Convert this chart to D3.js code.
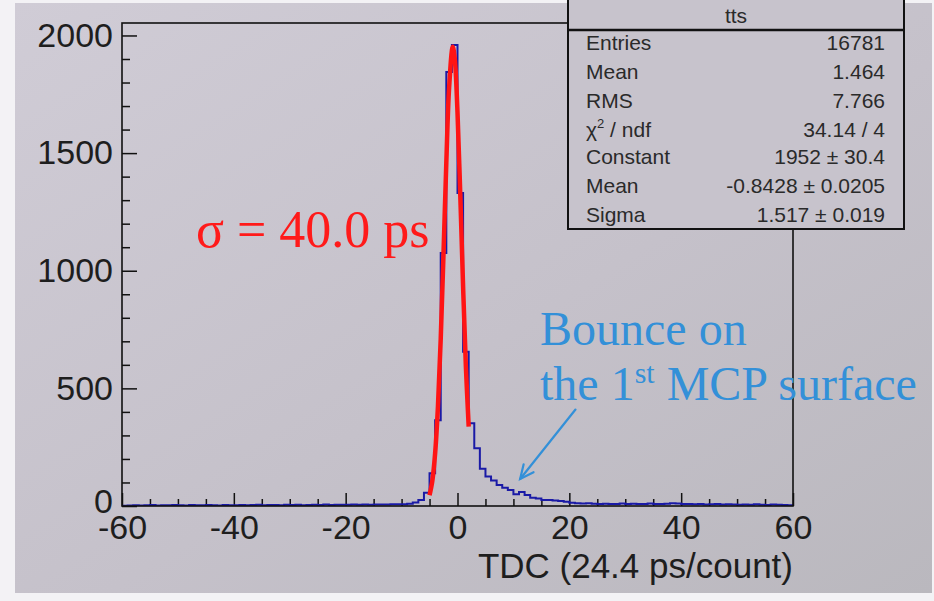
<!DOCTYPE html>
<html>
<head>
<meta charset="utf-8">
<script src="https://cdn.jsdelivr.net/npm/d3@7"></script>
<style>
  body { margin: 0; background: #f3f2f5; }
  svg { display: block; }
</style>
</head>
<body>
<svg id="chart" width="934" height="601"></svg>
<script>
// histogram "tts": 120 bins of width 1 from -60 to 60
const binLow = d3.range(-60, 60);
const counts = [
  // -60 .. -51
  1, 2, 3, 2, 3, 4, 2, 3, 3, 4,
  // -50 .. -41
  3, 2, 4, 3, 3, 4, 3, 2, 4, 3,
  // -40 .. -31
  3, 4, 3, 4, 5, 3, 4, 4, 3, 5,
  // -30 .. -21
  4, 5, 3, 4, 5, 4, 6, 4, 5, 5,
  // -20 .. -11
  5, 6, 5, 6, 5, 6, 6, 6, 7, 7,
  // -10 .. -1
  7, 10, 15, 26, 56, 139, 365, 1075, 1845, 1960,
  // 0 .. 9
  1330, 656, 352, 245, 158, 125, 108, 89, 78, 68,
  // 10 .. 19
  50, 60, 47, 35, 32, 26, 25, 23, 21, 18,
  // 20 .. 29
  14, 12, 11, 12, 10, 9, 10, 8, 9, 11,
  // 30 .. 39
  9, 10, 8, 9, 11, 9, 8, 10, 12, 11,
  // 40 .. 49
  9, 8, 7, 8, 6, 7, 8, 6, 7, 6,
  // 50 .. 59
  5, 6, 5, 7, 5, 4, 6, 5, 4, 3
];

// gaussian fit curve
const fitX = [-5, -4.5, -4, -3.5, -3, -2.5, -2, -1.5, -0.85, -0.5, 0, 0.5, 1, 1.5, 2];
const fitY = [46, 107, 224, 421, 710, 1075, 1459, 1777, 1952, 1903, 1673, 1319, 933, 592, 337];

const xTicks = [-60, -40, -20, 0, 20, 40, 60];
const xMinor = d3.range(-55, 60, 5);
const yTicks = [0, 500, 1000, 1500, 2000];
const yMinor = d3.range(100, 2100, 100);

const statLabels = ['Entries', 'Mean', 'RMS', 'chi2', 'Constant', 'Mean', 'Sigma'];
const statValues = ['16781', '1.464', '7.766', '34.14 / 4', '1952 \u00b1 30.4', '-0.8428 \u00b1 0.0205', '1.517 \u00b1 0.019'];

const svg = d3.select('#chart');

const defs = svg.append('defs');
const grad = defs.append('linearGradient')
  .attr('id', 'bg')
  .attr('x1', '0%').attr('y1', '0%')
  .attr('x2', '100%').attr('y2', '100%');
grad.append('stop').attr('offset', '0%').attr('stop-color', '#d0ccd6');
grad.append('stop').attr('offset', '55%').attr('stop-color', '#c5c1ca');
grad.append('stop').attr('offset', '100%').attr('stop-color', '#bab8be');

defs.append('clipPath').attr('id', 'frameClip')
  .append('rect').attr('x', 122).attr('y', 23).attr('width', 671).attr('height', 483);

// slide background
svg.append('rect')
  .attr('x', 15).attr('y', 3)
  .attr('width', 917).attr('height', 590)
  .attr('fill', 'url(#bg)');

const x = d3.scaleLinear().domain([-60, 60]).range([122, 793]);
const y = d3.scaleLinear().domain([0, 2053]).range([506, 23]);

const font = "'Liberation Sans', Arial, sans-serif";
const plain = d => String(d);

// minor ticks
svg.append('g')
  .attr('transform', `translate(${x(-60)},0)`)
  .call(d3.axisLeft(y).tickValues(yMinor.filter(v => v % 500 !== 0)).tickSize(-8).tickFormat(''))
  .call(g => g.select('.domain').remove());
svg.append('g')
  .attr('transform', `translate(0,${y(0)})`)
  .call(d3.axisBottom(x).tickValues(xMinor.filter(v => v % 20 !== 0)).tickSize(-7).tickFormat(''))
  .call(g => g.select('.domain').remove());

// major ticks + labels
const yAxis = svg.append('g')
  .attr('transform', `translate(${x(-60)},0)`)
  .call(d3.axisLeft(y).tickValues(yTicks).tickSize(-15).tickPadding(9).tickFormat(plain))
  .call(g => g.select('.domain').remove());
yAxis.selectAll('text')
  .attr('font-family', font).attr('font-size', 34).attr('fill', '#1e1e1e');
yAxis.selectAll('.tick').filter(d => d === 0).select('text').attr('dy', '0.2em');

const xAxis = svg.append('g')
  .attr('transform', `translate(0,${y(0)})`)
  .call(d3.axisBottom(x).tickValues(xTicks).tickSize(-13).tickPadding(9).tickFormat(plain))
  .call(g => g.select('.domain').remove());
xAxis.selectAll('text')
  .attr('font-family', font).attr('font-size', 34).attr('fill', '#1e1e1e');

svg.selectAll('.tick line').attr('stroke', '#111').attr('stroke-width', 1.5);

// histogram
const histPts = binLow.map((b, i) => [b, counts[i]]);
histPts.push([60, counts[counts.length - 1]]);
const histLine = d3.line()
  .x(d => x(d[0]))
  .y(d => y(d[1]))
  .curve(d3.curveStepAfter);

const plot = svg.append('g').attr('clip-path', 'url(#frameClip)');
plot.append('path')
  .datum(histPts)
  .attr('d', histLine)
  .attr('fill', 'none')
  .attr('stroke', '#1a1aa6')
  .attr('stroke-width', 2);

// fit
const fitLine = d3.line()
  .x((d, i) => x(fitX[i]))
  .y(d => y(d))
  .curve(d3.curveCatmullRom);
plot.append('path')
  .datum(fitY)
  .attr('d', fitLine)
  .attr('fill', 'none')
  .attr('stroke', '#ff1414')
  .attr('stroke-width', 4.5)
  .attr('stroke-linejoin', 'round');

// frame
svg.append('rect')
  .attr('x', x(-60)).attr('y', y(2053))
  .attr('width', x(60) - x(-60)).attr('height', y(0) - y(2053))
  .attr('fill', 'none')
  .attr('stroke', '#111')
  .attr('stroke-width', 1.6);

// axis title
svg.append('text')
  .attr('x', x(60)).attr('y', 578)
  .attr('text-anchor', 'end')
  .attr('font-family', font).attr('font-size', 35)
  .attr('fill', '#1e1e1e')
  .text('TDC (24.4 ps/count)');

// stats box
const box = svg.append('g');
box.append('rect')
  .attr('x', 568).attr('y', -6)
  .attr('width', 336).attr('height', 235)
  .attr('fill', '#c7c3cc')
  .attr('stroke', '#111').attr('stroke-width', 2);
box.append('line')
  .attr('x1', 568).attr('x2', 904)
  .attr('y1', 30).attr('y2', 30)
  .attr('stroke', '#111').attr('stroke-width', 2.5);
box.append('text')
  .attr('x', 736).attr('y', 23)
  .attr('text-anchor', 'middle')
  .attr('font-family', font).attr('font-size', 21).attr('fill', '#2a2a2a')
  .text('tts');

const rowY = [50, 79, 108, 137, 164, 193, 222];
statLabels.forEach((lab, i) => {
  const t = box.append('text')
    .attr('x', 586).attr('y', rowY[i])
    .attr('font-family', font).attr('font-size', 21).attr('fill', '#2a2a2a');
  if (lab === 'chi2') {
    t.append('tspan').text('\u03c7');
    t.append('tspan').attr('font-size', 13).attr('dy', -9).text('2');
    t.append('tspan').attr('dy', 9).text(' / ndf');
  } else {
    t.text(lab);
  }
  box.append('text')
    .attr('x', 885).attr('y', rowY[i])
    .attr('text-anchor', 'end')
    .attr('font-family', font).attr('font-size', 21).attr('fill', '#2a2a2a')
    .text(statValues[i]);
});

// annotations
const serif = "'Liberation Serif', 'Times New Roman', serif";
svg.append('text')
  .attr('x', 196).attr('y', 247)
  .attr('font-family', serif).attr('font-size', 52)
  .attr('fill', '#ff1a1a')
  .text('\u03c3 = 40.0 ps');

const blue = '#3390d8';
svg.append('text')
  .attr('x', 540).attr('y', 345)
  .attr('font-family', serif).attr('font-size', 48)
  .attr('fill', blue)
  .text('Bounce on');
const t2 = svg.append('text')
  .attr('x', 540).attr('y', 400)
  .attr('font-family', serif).attr('font-size', 48)
  .attr('fill', blue);
t2.append('tspan').text('the 1');
t2.append('tspan').attr('font-size', 30).attr('dy', -17).text('st');
t2.append('tspan').attr('dy', 17).text(' MCP surface');

// arrow pointing to the tail
const tip = [x(11.2), y(115)];
const tail = [x(21.1), y(410)];
const ang = Math.atan2(tail[1] - tip[1], tail[0] - tip[0]);
const headLen = 15;
const spread = 25 * Math.PI / 180;
const arrow = svg.append('g')
  .attr('stroke', blue).attr('stroke-width', 2.2)
  .attr('fill', 'none').attr('stroke-linecap', 'round');
arrow.append('line')
  .attr('x1', tail[0]).attr('y1', tail[1])
  .attr('x2', tip[0]).attr('y2', tip[1]);
arrow.append('polyline')
  .attr('points', [
    [tip[0] + headLen * Math.cos(ang + spread), tip[1] + headLen * Math.sin(ang + spread)],
    tip,
    [tip[0] + headLen * Math.cos(ang - spread), tip[1] + headLen * Math.sin(ang - spread)]
  ].map(p => p.join(',')).join(' '));
</script>
</body>
</html>
